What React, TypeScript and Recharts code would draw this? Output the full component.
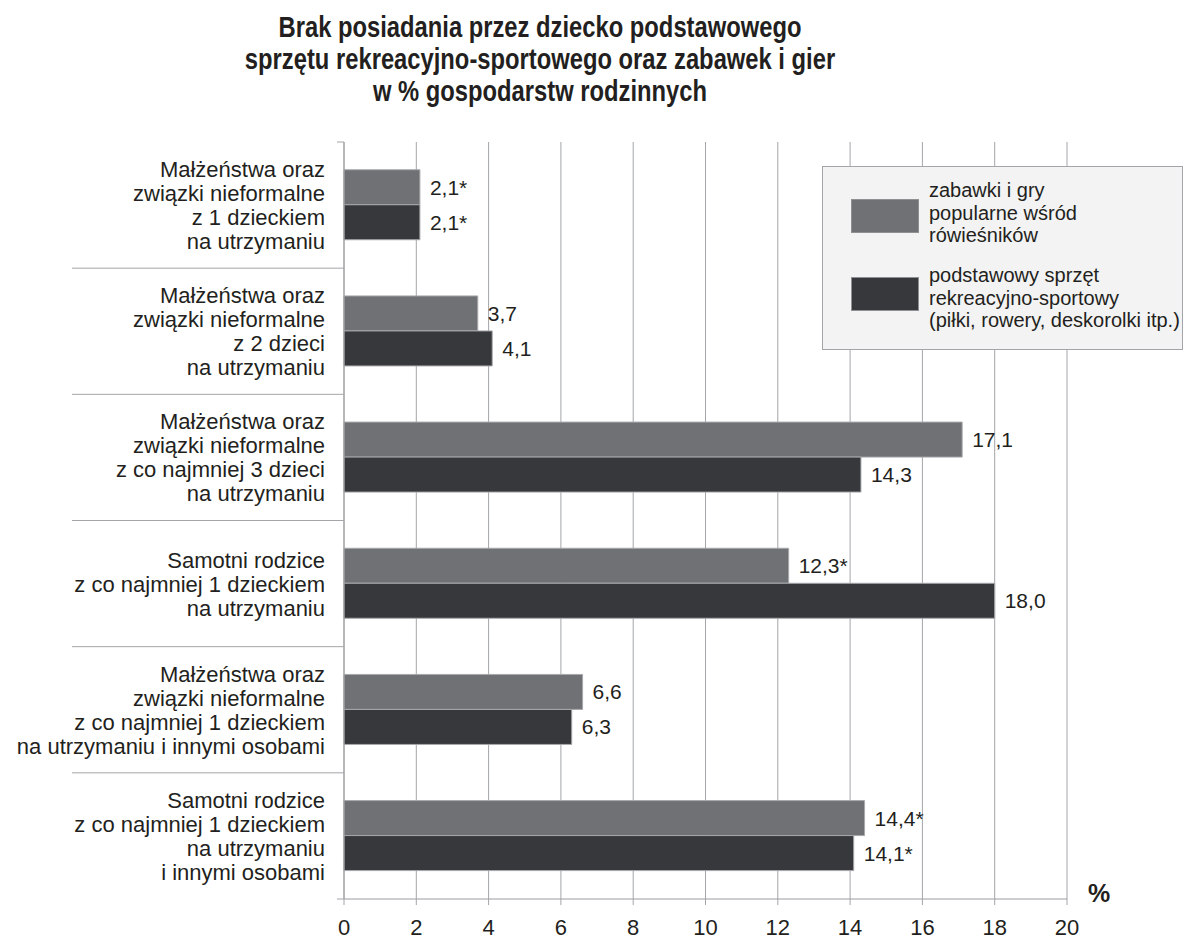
import React from "react";
import { BarChart, Bar, XAxis, YAxis, CartesianGrid, LabelList, Legend, Label } from "recharts";

const titleLines = [
  "Brak posiadania przez dziecko podstawowego",
  "sprzętu rekreacyjno-sportowego oraz zabawek i gier",
  "w % gospodarstw rodzinnych",
];

const categoryLines: string[][] = [
  ["Małżeństwa oraz", "związki nieformalne", "z 1 dzieckiem", "na utrzymaniu"],
  ["Małżeństwa oraz", "związki nieformalne", "z 2 dzieci", "na utrzymaniu"],
  ["Małżeństwa oraz", "związki nieformalne", "z co najmniej 3 dzieci", "na utrzymaniu"],
  ["Samotni rodzice", "z co najmniej 1 dzieckiem", "na utrzymaniu"],
  ["Małżeństwa oraz", "związki nieformalne", "z co najmniej 1 dzieckiem", "na utrzymaniu i innymi osobami"],
  ["Samotni rodzice", "z co najmniej 1 dzieckiem", "na utrzymaniu", "i innymi osobami"],
];

const zabawkiValues = [2.1, 3.7, 17.1, 12.3, 6.6, 14.4];
const zabawkiFlags = [true, false, false, true, false, true];
const sprzetValues = [2.1, 4.1, 14.3, 18.0, 6.3, 14.1];
const sprzetFlags = [true, false, false, false, false, true];

const xTicks = [0, 2, 4, 6, 8, 10, 12, 14, 16, 18, 20];

const legendZabawki = ["zabawki i gry", "popularne wśród", "rówieśników"];
const legendSprzet = ["podstawowy sprzęt", "rekreacyjno-sportowy", "(piłki, rowery, deskorolki itp.)"];

const GREY = "#6f7175";
const DARK = "#36383b";
const TEXT = "#231f20";
const LINE = "#a3a5a8";
const FONT = "'Liberation Sans', Arial, Helvetica, sans-serif";

const fmt = (v: number, flag: boolean) => v.toFixed(1).replace(".", ",") + (flag ? "*" : "");

const data = categoryLines.map((lines, i) => ({
  cat: lines.join("|"),
  zabawki: zabawkiValues[i],
  sprzet: sprzetValues[i],
  zabawkiLabel: fmt(zabawkiValues[i], zabawkiFlags[i]),
  sprzetLabel: fmt(sprzetValues[i], sprzetFlags[i]),
}));

const CatTick = (props: any) => {
  const { x, y, payload, index, visibleTicksCount } = props;
  const lines: string[] = String(payload.value).split("|");
  const half = payload && typeof payload.offset === "number" && payload.offset > 0 ? payload.offset : 63.1;
  const lh = 24;
  const axisX = x + 19;
  const first = y + 8 - ((lines.length - 1) * lh) / 2;
  const count = visibleTicksCount ?? categoryLines.length;
  return (
    <g>
      {index > 0 ? (
        <line x1={x - 253} x2={axisX} y1={y - half} y2={y - half} stroke={LINE} strokeWidth={1} />
      ) : (
        <line x1={axisX - 7} x2={axisX} y1={y - half} y2={y - half} stroke={LINE} strokeWidth={1} />
      )}
      {index === count - 1 && (
        <line x1={axisX - 7} x2={axisX} y1={y + half} y2={y + half} stroke={LINE} strokeWidth={1} />
      )}
      <text textAnchor="end" fontSize={22} fill={TEXT} fontFamily={FONT}>
        {lines.map((l, k) => (
          <tspan key={k} x={x} y={first + k * lh}>
            {l}
          </tspan>
        ))}
      </text>
    </g>
  );
};

const NumTick = (props: any) => {
  const { x, y, payload } = props;
  return (
    <text x={x} y={y + 28} textAnchor="middle" fontSize={22} fill={TEXT} fontFamily={FONT}>
      {payload.value}
    </text>
  );
};

const LegendBox = () => {
  const blocks = [
    { color: GREY, lines: legendZabawki, swTop: 33, txTop: 13 },
    { color: DARK, lines: legendSprzet, swTop: 111, txTop: 98 },
  ];
  return (
    <div
      style={{
        position: "relative",
        width: 361,
        height: 184,
        boxSizing: "border-box",
        background: "#f3f3f3",
        border: `1px solid ${LINE}`,
        fontFamily: FONT,
        color: TEXT,
      }}
    >
      {blocks.map((b, i) => (
        <React.Fragment key={i}>
          <div
            style={{
              position: "absolute",
              left: 28,
              top: b.swTop - 1,
              width: 68,
              height: 34,
              boxSizing: "border-box",
              background: b.color,
              border: "1px solid #8e9093",
            }}
          />
          <div
            style={{
              position: "absolute",
              left: 106,
              top: b.txTop - 1,
              fontSize: 20,
              lineHeight: "22.5px",
              whiteSpace: "nowrap",
              textAlign: "left",
            }}
          >
            {b.lines.map((l, k) => (
              <div key={k}>{l}</div>
            ))}
          </div>
        </React.Fragment>
      ))}
    </div>
  );
};

export default function App() {
  return (
    <div style={{ position: "absolute", left: 0, top: 0, width: 1183, height: 941, background: "#fff" }}>
      <BarChart
        width={1183}
        height={941}
        data={data}
        layout="vertical"
        margin={{ top: 142, right: 116, bottom: 0, left: 0 }}
        barCategoryGap="22%"
        barGap={0}
      >
        <CartesianGrid horizontal={false} vertical={true} stroke={LINE} strokeWidth={1} />
        <XAxis
          type="number"
          domain={[0, 20]}
          ticks={xTicks}
          interval={0}
          height={42}
          tickSize={6}
          tickMargin={2}
          axisLine={{ stroke: "#9a9c9f" }}
          tickLine={{ stroke: LINE }}
          tick={<NumTick />}
        >
          <Label
            content={(p: any) => {
              const vb = p.viewBox || { x: 344, y: 899, width: 723 };
              return (
                <text x={vb.x + vb.width + 21} y={vb.y + 3} fontSize={25} fontWeight="bold" fill={TEXT} fontFamily={FONT}>
                  %
                </text>
              );
            }}
          />
        </XAxis>
        <YAxis
          type="category"
          dataKey="cat"
          width={344}
          tickLine={false}
          tickSize={0}
          tickMargin={19}
          axisLine={{ stroke: "#9a9c9f" }}
          tick={<CatTick />}
          interval={0}
        />
        <Legend
          layout="vertical"
          align="center"
          verticalAlign="middle"
          wrapperStyle={{ position: "absolute", left: 822, top: 166, width: 361, height: 184, margin: 0 }}
          content={() => <LegendBox />}
        />
        <Bar dataKey="zabawki" name={legendZabawki.join(" ")} fill={GREY} stroke="#a7a9ac" strokeWidth={1} isAnimationActive={false}>
          <LabelList dataKey="zabawkiLabel" position="right" offset={10} fontSize={21} fill={TEXT} fontFamily={FONT} />
        </Bar>
        <Bar dataKey="sprzet" name={legendSprzet.join(" ")} fill={DARK} stroke="#a7a9ac" strokeWidth={1} isAnimationActive={false}>
          <LabelList dataKey="sprzetLabel" position="right" offset={10} fontSize={21} fill={TEXT} fontFamily={FONT} />
        </Bar>
      </BarChart>
      <svg width={1183} height={120} style={{ position: "absolute", left: 0, top: 0, pointerEvents: "none" }}>
        <g transform="translate(540,0) scale(0.82,1)">
          {titleLines.map((t, i) => (
            <text
              key={i}
              x={0}
              y={37 + i * 32}
              textAnchor="middle"
              fontSize={29}
              fontWeight="bold"
              fill={TEXT}
              fontFamily={FONT}
            >
              {t}
            </text>
          ))}
        </g>
      </svg>
    </div>
  );
}
